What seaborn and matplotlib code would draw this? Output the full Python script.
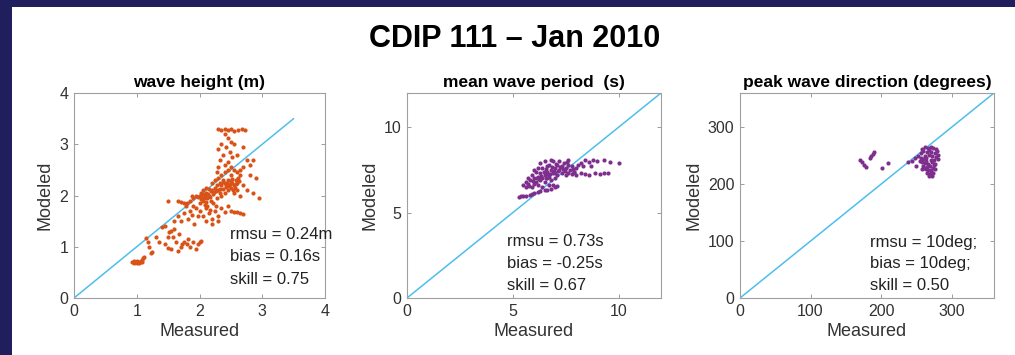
import matplotlib
matplotlib.use("Agg")
import matplotlib.pyplot as plt
from matplotlib.patches import Rectangle
import seaborn as sns
import pandas as pd

# values (measured, modeled)
hs_points = [
    (0.93, 0.70), (0.95, 0.69), (0.97, 0.71), (0.99, 0.70), (1.01, 0.69), (1.03, 0.71),
    (1.05, 0.70), (1.07, 0.72), (1.09, 0.74), (1.10, 0.78), (1.12, 0.80), (0.96, 0.72),
    (1.00, 0.72), (1.04, 0.68), (1.08, 0.70),
    (1.15, 1.18), (1.18, 1.10), (1.20, 1.00), (1.22, 0.88), (1.25, 0.90), (1.30, 1.20),
    (1.35, 1.10), (1.40, 1.38), (1.45, 1.40),
    (1.45, 1.05), (1.50, 1.20), (1.52, 1.28), (1.55, 1.30), (1.58, 1.20), (1.60, 1.35),
    (1.62, 1.10), (1.55, 0.95), (1.65, 0.92), (1.70, 1.00), (1.68, 1.25), (1.72, 1.05),
    (1.75, 1.10), (1.80, 1.05), (1.82, 1.15), (1.85, 1.00), (1.90, 1.10), (1.95, 0.95),
    (2.00, 1.10), (2.03, 1.12), (1.98, 1.05), (1.50, 0.97),
    (1.60, 1.50), (1.65, 1.60), (1.70, 1.50), (1.75, 1.65), (1.78, 1.80), (1.82, 1.55),
    (1.85, 1.70), (1.88, 1.62), (1.90, 1.80), (1.92, 1.45), (1.95, 1.75), (1.98, 1.60),
    (1.65, 1.90), (1.70, 1.88), (1.75, 1.85), (1.80, 1.86), (1.85, 1.90), (1.88, 2.00),
    (1.90, 1.95), (1.95, 2.00), (1.50, 1.90),
    (2.00, 2.00), (2.02, 1.98), (2.05, 2.02), (2.08, 2.00), (2.10, 2.05), (2.12, 1.95),
    (2.15, 2.00), (2.18, 2.08), (2.20, 2.10), (2.22, 2.02), (2.25, 2.15), (2.28, 2.20),
    (2.30, 2.10), (2.32, 2.25), (2.35, 2.20), (2.38, 2.30), (2.40, 2.25), (2.42, 2.20),
    (2.45, 2.30), (2.48, 2.22), (2.50, 2.28), (2.52, 2.25), (2.55, 2.20), (2.58, 2.30),
    (2.60, 2.25), (2.62, 2.35), (2.25, 2.30), (2.30, 2.35), (2.20, 2.25), (2.15, 2.12),
    (2.05, 1.90), (2.10, 1.88), (2.00, 1.85), (2.12, 1.80), (2.18, 1.90), (2.22, 1.85),
    (2.28, 1.95), (2.35, 2.00), (2.40, 2.05), (2.45, 2.10), (2.50, 2.15), (2.55, 2.05),
    (2.60, 2.10), (2.65, 2.00), (2.05, 2.10), (2.10, 2.15), (2.27, 2.08), (2.33, 2.12),
    (2.43, 2.16), (2.37, 2.27), (2.47, 2.18), (2.57, 2.14), (2.03, 2.05), (2.07, 1.96),
    (2.13, 2.03), (2.17, 1.97), (2.23, 2.07), (2.32, 2.05), (2.38, 2.13), (2.44, 2.24),
    (2.52, 2.32), (2.58, 2.22), (2.63, 2.28), (2.53, 2.10), (2.02, 1.93), (1.97, 1.97),
    (2.00, 1.70), (2.05, 1.60), (2.10, 1.75), (2.15, 1.65), (2.20, 1.55), (2.25, 1.70),
    (2.30, 1.60), (2.35, 1.75), (2.40, 1.68), (2.45, 1.80), (2.20, 1.45), (2.10, 1.50),
    (2.30, 1.50), (2.08, 1.82), (2.16, 1.72), (2.26, 1.80),
    (2.50, 1.70), (2.55, 1.68), (2.60, 1.67), (2.65, 1.65), (2.70, 1.63),
    (2.50, 2.40), (2.55, 2.50), (2.60, 2.45), (2.65, 2.50), (2.70, 2.55), (2.75, 2.70),
    (2.80, 2.60), (2.85, 2.70), (2.90, 2.35), (2.95, 1.95), (2.70, 2.20), (2.75, 2.10),
    (2.80, 2.40), (2.65, 2.40), (2.50, 2.55), (2.40, 2.45), (2.45, 2.50), (2.85, 2.05),
    (2.30, 3.30), (2.35, 3.28), (2.40, 3.30), (2.45, 3.28), (2.50, 3.30), (2.55, 3.25),
    (2.62, 3.28), (2.68, 3.30), (2.72, 3.28), (2.40, 3.20), (2.45, 3.12), (2.50, 3.05),
    (2.55, 3.00), (2.35, 3.00), (2.30, 2.90), (2.38, 2.80), (2.42, 2.95), (2.48, 2.85),
    (2.32, 2.70), (2.40, 2.60), (2.45, 2.65), (2.52, 2.75), (2.30, 2.55), (2.35, 2.40),
    (2.28, 2.45), (2.60, 2.80), (2.70, 2.95),
]

tm_points = [
    (5.3, 5.90), (5.4, 5.95), (5.5, 6.00), (5.6, 5.95), (5.8, 6.05), (5.9, 6.10),
    (6.0, 6.15), (6.2, 6.20), (6.3, 6.25), (6.5, 6.30), (6.6, 6.35), (6.8, 6.40),
    (7.0, 6.50), (6.9, 6.60), (7.1, 6.55),
    (5.5, 6.6), (5.6, 6.8), (5.7, 6.7), (5.8, 6.9), (5.9, 6.5), (6.0, 6.7), (6.0, 7.0),
    (6.1, 6.8), (6.2, 7.1), (6.2, 6.6), (6.3, 6.9), (6.3, 7.3), (6.4, 7.0), (6.4, 7.6),
    (6.5, 7.2), (6.5, 6.8), (6.6, 7.4), (6.6, 7.0), (6.7, 7.8), (6.7, 7.1), (6.8, 7.5),
    (6.8, 6.9), (6.9, 7.3), (6.9, 8.0), (7.0, 7.6), (7.0, 7.0), (7.1, 7.8), (7.1, 7.2),
    (7.2, 7.5), (7.3, 7.7), (7.3, 7.3), (7.4, 7.9), (7.5, 7.6), (7.5, 7.2), (7.6, 7.8),
    (7.7, 7.5), (7.8, 7.7), (7.9, 7.4), (8.0, 7.6), (8.1, 7.8), (6.3, 7.9), (6.5, 8.0),
    (6.6, 7.7), (6.1, 7.4), (5.9, 7.2), (5.7, 7.0), (6.8, 8.1), (7.2, 8.0), (7.6, 8.05),
    (5.6, 6.5), (6.4, 6.5), (6.7, 6.6), (7.0, 7.3), (6.2, 7.6), (6.0, 7.5), (6.45, 7.35),
    (6.55, 7.05), (6.75, 7.25), (6.85, 7.65), (7.15, 7.45), (7.35, 7.55), (6.35, 7.15),
    (5.75, 6.55), (5.95, 6.85), (6.15, 7.05), (6.25, 6.95), (6.55, 7.55), (6.65, 7.25),
    (6.95, 7.45), (7.05, 7.85), (7.25, 7.65), (7.45, 7.45), (7.55, 7.95), (7.85, 7.55),
    (8.2, 7.90), (8.4, 8.05), (8.6, 7.95), (8.8, 8.10), (9.0, 8.00), (9.3, 8.05),
    (9.6, 7.95), (10.0, 7.90), (8.3, 7.70), (8.7, 7.75),
    (7.8, 7.25), (8.0, 7.20), (8.2, 7.30), (8.4, 7.25), (8.6, 7.20), (8.9, 7.30),
    (9.1, 7.25), (9.3, 7.30), (9.5, 7.30), (7.6, 7.30), (7.9, 7.40),
]

dp_points = [
    (170, 242), (173, 238), (176, 234), (179, 230), (184, 246), (186, 250), (188, 253),
    (190, 256), (201, 228), (210, 237), (238, 239), (248, 246), (244, 240), (250, 232),
    (258, 262), (262, 265), (266, 264), (270, 265), (274, 263), (278, 262), (260, 258),
    (265, 256), (270, 257), (276, 255), (262, 250), (268, 252), (272, 250), (278, 248),
    (256, 246), (260, 244), (264, 245), (270, 243), (275, 242), (280, 244), (258, 238),
    (262, 237), (266, 236), (272, 238), (277, 236), (260, 232), (265, 230), (269, 231),
    (274, 229), (263, 226), (267, 224), (271, 225), (276, 226), (265, 220), (269, 218),
    (273, 219), (268, 214), (272, 215), (255, 240), (252, 250), (258, 227), (280, 252),
    (279, 258), (261, 229), (264, 240), (268, 260), (257, 255), (275, 233), (270, 222),
]

panel_titles = ["wave height (m)", "mean wave period  (s)", "peak wave direction (degrees)"]
panel_stats = [
    ["rmsu = 0.24m", "bias = 0.16s", "skill = 0.75"],
    ["rmsu = 0.73s", "bias = -0.25s", "skill = 0.67"],
    ["rmsu = 10deg;", "bias = 10deg;", "skill = 0.50"],
]
axis_limits = [4, 12, 360]
axis_ticks = [[0, 1, 2, 3, 4], [0, 5, 10], [0, 100, 200, 300]]
line_ends = [3.5, 12, 360]

sns.set_style("white")
plt.rcParams["font.family"] = ["Liberation Sans", "DejaVu Sans"]

fig = plt.figure(figsize=(10.15, 3.55), dpi=100)
fig.patch.set_facecolor("white")
navy = "#211e5e"
fig.patches.append(Rectangle((0, 1 - 7 / 355), 1, 7 / 355, transform=fig.transFigure,
                             facecolor=navy, edgecolor="none", zorder=0))
fig.patches.append(Rectangle((0, 0), 12 / 1015, 1, transform=fig.transFigure,
                             facecolor=navy, edgecolor="none", zorder=0))

fig.text(0.507, 1 - 47 / 355, "CDIP 111 \u2013 Jan 2010", ha="center", va="baseline",
         fontsize=22, fontweight="bold", color="black")

ax_lefts = [74, 407, 740]
ax_widths = [251, 254, 254]
colors = ["#D95319", "#7E2F8E", "#7E2F8E"]
datasets = [hs_points, tm_points, dp_points]
text_x = [0.622, 0.394, 0.512]
text_y = [[0.29, 0.18, 0.068], [0.255, 0.148, 0.04], [0.25, 0.146, 0.04]]

for i in range(3):
    ax = fig.add_axes([ax_lefts[i] / 1015, 1 - 298 / 355, ax_widths[i] / 1015, 205 / 355])
    df = pd.DataFrame(datasets[i], columns=["Measured", "Modeled"])
    sns.lineplot(x=[0, line_ends[i]], y=[0, line_ends[i]], ax=ax, color="#4DBEEE", lw=1.1)
    sns.scatterplot(data=df, x="Measured", y="Modeled", ax=ax, color=colors[i],
                    s=9, linewidth=0, zorder=3)
    lim = axis_limits[i]
    ax.set_xlim(0, lim)
    ax.set_ylim(0, lim)
    ax.set_xticks(axis_ticks[i])
    ax.set_yticks(axis_ticks[i])
    ax.tick_params(direction="in", length=3, width=0.6, colors="#8c8c8c",
                   labelcolor="#333333", labelsize=11.5, top=True, right=True,
                   bottom=True, left=True, pad=4)
    for sp in ax.spines.values():
        sp.set_color("#a0a0a0")
        sp.set_linewidth(0.8)
    ax.set_xlabel("Measured", fontsize=13, color="#333333", labelpad=3)
    ax.set_ylabel("Modeled", fontsize=13, color="#333333", labelpad=4)
    ax.set_title(panel_titles[i], fontsize=12.5, fontweight="bold", color="black", pad=4)
    for txt, ty in zip(panel_stats[i], text_y[i]):
        ax.text(text_x[i], ty, txt, transform=ax.transAxes, fontsize=12,
                color="#222222", va="baseline", ha="left")

fig.savefig("out.png", dpi=100, facecolor="white")
plt.close(fig)
